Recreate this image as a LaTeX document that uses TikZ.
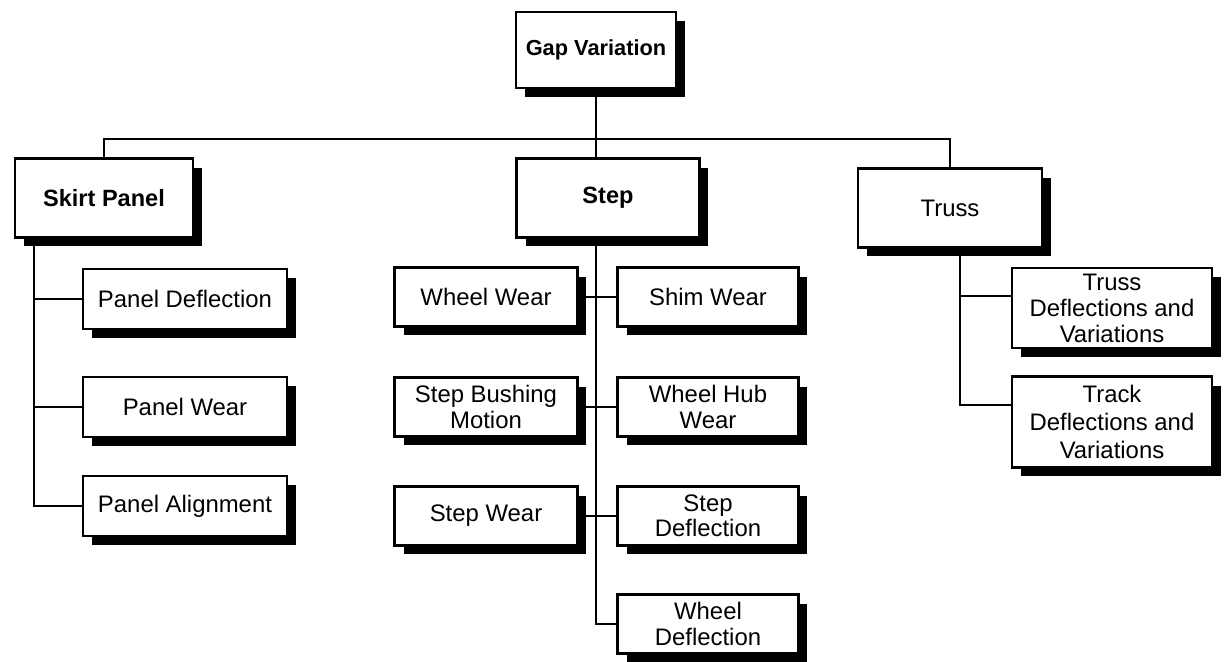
\documentclass[tikz,border=0pt]{standalone}
\usepackage{fontspec}
\setmainfont{Liberation Sans}
\usetikzlibrary{positioning,calc,shadows}
\tikzset{
  box/.style={draw=black,fill=white,line width=1.3pt,align=center,inner sep=2pt,
    font=\fontsize{13.6}{14.5}\selectfont,
    drop shadow={shadow xshift=0.18cm,shadow yshift=-0.18cm,fill=black,opacity=1}},
  head/.style={box,font=\fontsize{13.4}{14.5}\selectfont\bfseries},
  link/.style={line width=1.4pt},
}

\begin{document}
\begin{tikzpicture}[x=0.02cm,y=-0.02cm]
\useasboundingbox (0,0) rectangle (1225,662);
% top level
\node[head,minimum width=3.2cm,minimum height=1.52cm,font=\fontsize{12.4}{14}\selectfont\bfseries]
  (gap) at (596,50) {Gap Variation};
\node[head,minimum width=3.56cm,minimum height=1.58cm] (skirt) at (104,198) {Skirt Panel};
\node[head,minimum width=3.66cm,minimum height=1.58cm] (step) at (608,198) {Step};
\node[box,minimum width=3.68cm,minimum height=1.58cm] (truss) at (950,208) {Truss};
% skirt panel branch
\foreach \n/\y/\lab in {pdefl/299/Panel Deflection,pwear/407/Panel Wear,palign/506/Panel Alignment}{
  \node[box,minimum width=4.08cm,minimum height=1.2cm] (\n) at (185,\y) {\lab};
}
% step branch
\foreach \n/\y/\lab in {wwear/297/Wheel Wear,bushing/407/{Step Bushing\\Motion},swear/516/Step Wear}{
  \node[box,minimum width=3.66cm,minimum height=1.18cm] (\n) at (486,\y) {\lab};
}
\foreach \n/\y/\lab in {shim/297/Shim Wear,hub/407/{Wheel Hub\\Wear},sdefl/516/{Step\\Deflection},wdefl/624/{Wheel\\Deflection}}{
  \node[box,minimum width=3.62cm,minimum height=1.18cm] (\n) at (708,\y) {\lab};
}
% truss branch
\node[box,minimum width=4cm,minimum height=1.6cm,inner sep=1pt,font=\fontsize{13.6}{14.8}\selectfont]
  (tdefl) at (1112,308) {Truss\\Deflections and\\Variations};
\node[box,minimum width=4cm,minimum height=1.82cm,font=\fontsize{13.6}{16}\selectfont]
  (track) at (1112,422) {Track\\Deflections and\\Variations};
% connectors
\coordinate (bus) at ($(gap.south)+(0,50)$);
\draw[link] (gap.south) -- (bus);
\draw[link] (skirt.north) |- (bus) -| (truss.north);
\draw[link] (bus) -- (bus |- step.north);
\coordinate (skcol) at ($(skirt.south west)+(20,0)$);
\foreach \n in {pdefl,pwear,palign} \draw[link] (skcol) |- (\n.west);
\foreach \n in {shim,hub,sdefl,wdefl} \draw[link] (bus |- step.south) |- (\n.west);
\foreach \n in {wwear,bushing,swear} \draw[link] (\n.east) -- (\n.east -| bus);
\coordinate (trcol) at ($(truss.south)+(10,0)$);
\draw[link] (trcol) |- ($(tdefl.west)+(0,-12)$);
\draw[link] (trcol) |- ($(track.west)+(0,-17)$);
\end{tikzpicture}
\end{document}
